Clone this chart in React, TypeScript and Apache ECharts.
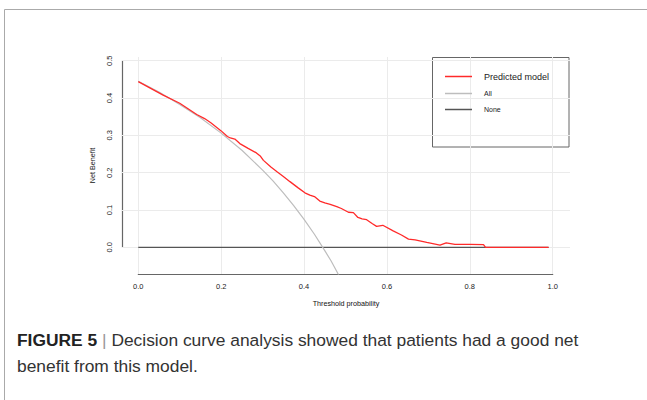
import React, { useEffect, useRef } from "react";
import * as echarts from "echarts";

const xTicks = [0, 0.2, 0.4, 0.6, 0.8, 1.0];
const yTicks = [0, 0.1, 0.2, 0.3, 0.4, 0.5];
const xRange = [-0.0393, 1.0417];
const yRange = [-0.0715, 0.51];

const seriesNames = ["Predicted model", "All", "None"];

const modelX = [0.0, 0.03, 0.06, 0.1, 0.141, 0.16, 0.175, 0.2, 0.215, 0.222, 0.233, 0.245, 0.265, 0.285, 0.295, 0.302, 0.32, 0.334, 0.35, 0.366, 0.385, 0.402, 0.414, 0.425, 0.438, 0.45, 0.463, 0.479, 0.49, 0.507, 0.519, 0.53, 0.54, 0.551, 0.565, 0.575, 0.59, 0.615, 0.635, 0.652, 0.668, 0.696, 0.728, 0.743, 0.764, 0.8, 0.833, 0.838, 0.99];
const modelY = [0.444, 0.426, 0.408, 0.386, 0.356, 0.345, 0.334, 0.312, 0.297, 0.293, 0.29, 0.278, 0.265, 0.253, 0.244, 0.233, 0.215, 0.203, 0.19, 0.176, 0.16, 0.146, 0.14, 0.136, 0.124, 0.119, 0.115, 0.109, 0.104, 0.094, 0.093, 0.08, 0.076, 0.074, 0.063, 0.056, 0.059, 0.044, 0.033, 0.022, 0.02, 0.013, 0.006, 0.012, 0.008, 0.008, 0.007, 0.0, 0.0];

const allX = [0, 0.05, 0.1, 0.15, 0.2, 0.25, 0.3, 0.325, 0.35, 0.375, 0.4, 0.425, 0.45, 0.465, 0.48, 0.49];
const allY = [0.445, 0.416, 0.383, 0.347, 0.306, 0.26, 0.207, 0.178, 0.146, 0.112, 0.075, 0.035, -0.009, -0.036, -0.067, -0.088];

const noneX = [0, 0.99];
const noneY = [0, 0];

const captionBold = "FIGURE 5";
const captionLine1 = "Decision curve analysis showed that patients had a good net";
const captionLine2 = "benefit from this model.";

const FONT = "'Liberation Sans', Arial, sans-serif";
const LEGEND_ICON = "path://M0,0 L27,0 L27,1.5 L0,1.5 Z";

const zip = (xs: number[], ys: number[]) => xs.map((x, i) => [x, ys[i]]);

const G = { left: 122, right: 77, top: 57, bottom: 126 };

export default function App() {
  const ref = useRef<HTMLDivElement>(null);
  useEffect(() => {
    if (!ref.current) return;
    const chart = echarts.init(ref.current, undefined, { renderer: "svg" });
    const gridStyle = { color: "#ebebeb", width: 1, type: "solid" as const };
    const plotW = 647 - G.left - G.right;
    const plotH = 400 - G.top - G.bottom;
    const xPx = (v: number) => G.left + ((v - xRange[0]) / (xRange[1] - xRange[0])) * plotW;
    const yPx = (v: number) => G.top + ((yRange[1] - v) / (yRange[1] - yRange[0])) * plotH;
    const gx = { left: xPx(xTicks[0]), right: 647 - xPx(xTicks[xTicks.length - 1]), top: G.top, bottom: G.bottom };
    const gy = { left: G.left, right: 400, top: yPx(yTicks[yTicks.length - 1]), bottom: 400 - yPx(yTicks[0]) };
    const hiddenAxis = (gridIndex: number) => ({ type: "value", gridIndex, show: false, min: 0, max: 1 });
    const axisLineStyle = { color: "#666", width: 1.2 };
    const option = {
      animation: false,
      backgroundColor: "#fff",
      textStyle: { fontFamily: FONT },
      grid: [G, gx, gy],
      xAxis: [
        {
          type: "value",
          gridIndex: 0,
          min: xRange[0],
          max: xRange[1],
          axisLine: { show: false },
          splitLine: { show: false },
          axisTick: { show: true, customValues: xTicks, length: 3, lineStyle: { color: "#666" } },
          axisLabel: {
            customValues: xTicks,
            formatter: (v: number) => v.toFixed(1),
            fontSize: 7.5,
            color: "#222",
            margin: 8,
            fontFamily: FONT,
          },
          name: "Threshold probability",
          nameLocation: "middle",
          nameGap: 26,
          nameTextStyle: { fontSize: 7.2, color: "#111", fontFamily: FONT },
        },
        {
          type: "value",
          gridIndex: 1,
          min: xTicks[0],
          max: xTicks[xTicks.length - 1],
          position: "bottom",
          axisLine: { show: true, onZero: false, lineStyle: axisLineStyle },
          axisTick: { show: false },
          axisLabel: { show: false },
          splitLine: { show: false },
        },
        hiddenAxis(2),
      ],
      yAxis: [
        {
          type: "value",
          gridIndex: 0,
          min: yRange[0],
          max: yRange[1],
          axisLine: { show: false },
          splitLine: { show: false },
          axisTick: { show: true, customValues: yTicks, length: 3, lineStyle: { color: "#666" } },
          axisLabel: {
            customValues: yTicks,
            formatter: (v: number) => v.toFixed(1),
            fontSize: 7.5,
            color: "#222",
            margin: 9,
            rotate: 90,
            fontFamily: FONT,
          },
          name: "Net Benefit",
          nameLocation: "middle",
          nameGap: 26,
          nameTextStyle: { fontSize: 7.2, color: "#111", fontFamily: FONT },
        },
        hiddenAxis(1),
        {
          type: "value",
          gridIndex: 2,
          min: yTicks[0],
          max: yTicks[yTicks.length - 1],
          position: "left",
          axisLine: { show: true, onZero: false, lineStyle: axisLineStyle },
          axisTick: { show: false },
          axisLabel: { show: false },
          splitLine: { show: false },
        },
      ],
      legend: {
        orient: "vertical",
        left: 445,
        top: 72,
        padding: 0,
        itemWidth: 27,
        itemHeight: 14,
        itemGap: 9,
        data: [
          { name: seriesNames[0], icon: LEGEND_ICON, textStyle: { fontSize: 9 } },
          { name: seriesNames[1], icon: LEGEND_ICON, textStyle: { fontSize: 7 } },
          { name: seriesNames[2], icon: LEGEND_ICON, textStyle: { fontSize: 7 } },
        ],
        textStyle: { color: "#222", fontFamily: FONT, padding: [0, 0, 0, 7] },
      },
      series: [
        {
          name: "grid",
          type: "line",
          data: [[0, 0]],
          symbol: "none",
          lineStyle: { opacity: 0 },
          silent: true,
          z: 1,
          markLine: {
            silent: true,
            symbol: "none",
            z: 1,
            label: { show: false },
            data: [
              ...xTicks.map((v) => ({ xAxis: v, lineStyle: gridStyle })),
              ...yTicks.map((v) => ({ yAxis: v, lineStyle: gridStyle })),
            ],
          },
        },
        {
          name: seriesNames[2],
          type: "line",
          data: zip(noneX, noneY),
          symbol: "none",
          color: "#555",
          lineStyle: { color: "#555", width: 1.3 },
          z: 3,
        },
        {
          name: seriesNames[1],
          type: "line",
          data: zip(allX, allY),
          symbol: "none",
          color: "#bdbdbd",
          lineStyle: { color: "#bdbdbd", width: 1.2 },
          z: 4,
        },
        {
          name: seriesNames[0],
          type: "line",
          data: zip(modelX, modelY),
          symbol: "none",
          color: "#ff2a2a",
          lineStyle: { color: "#ff2a2a", width: 1.3 },
          z: 5,
        },
      ],
      graphic: [
        { type: "line", shape: { x1: 4.5, y1: 9.5, x2: 647, y2: 9.5 }, style: { stroke: "#aaa", lineWidth: 1 }, silent: true },
        { type: "line", shape: { x1: 4.5, y1: 9.5, x2: 4.5, y2: 400 }, style: { stroke: "#aaa", lineWidth: 1 }, silent: true },
        {
          type: "rect",
          shape: { x: 432.5, y: 57.5, width: 136.5, height: 89.5 },
          style: { fill: "none", stroke: "#666", lineWidth: 1 },
          silent: true,
        },
        {
          type: "text",
          x: 17,
          y: 340,
          style: {
            text: `{b|${captionBold}} {s||} {n|${captionLine1}}`,
            verticalAlign: "middle",
            rich: {
              b: { fontSize: 17.4, fontWeight: "bold", fill: "#222", fontFamily: FONT },
              s: { fontSize: 17.4, fill: "#999", fontFamily: FONT },
              n: { fontSize: 17.4, fill: "#333", fontFamily: FONT },
            },
            fontSize: 17.4,
            fontFamily: FONT,
          },
          silent: true,
        },
        {
          type: "text",
          x: 17,
          y: 366,
          style: { text: captionLine2, fontSize: 17.4, fill: "#333", fontFamily: FONT, verticalAlign: "middle" },
          silent: true,
        },
      ],
    };
    chart.setOption(option as any);
    return () => chart.dispose();
  }, []);
  return (
    <div
      ref={ref}
      style={{ position: "fixed", left: 0, top: 0, width: 647, height: 400, background: "#fff" }}
    />
  );
}
